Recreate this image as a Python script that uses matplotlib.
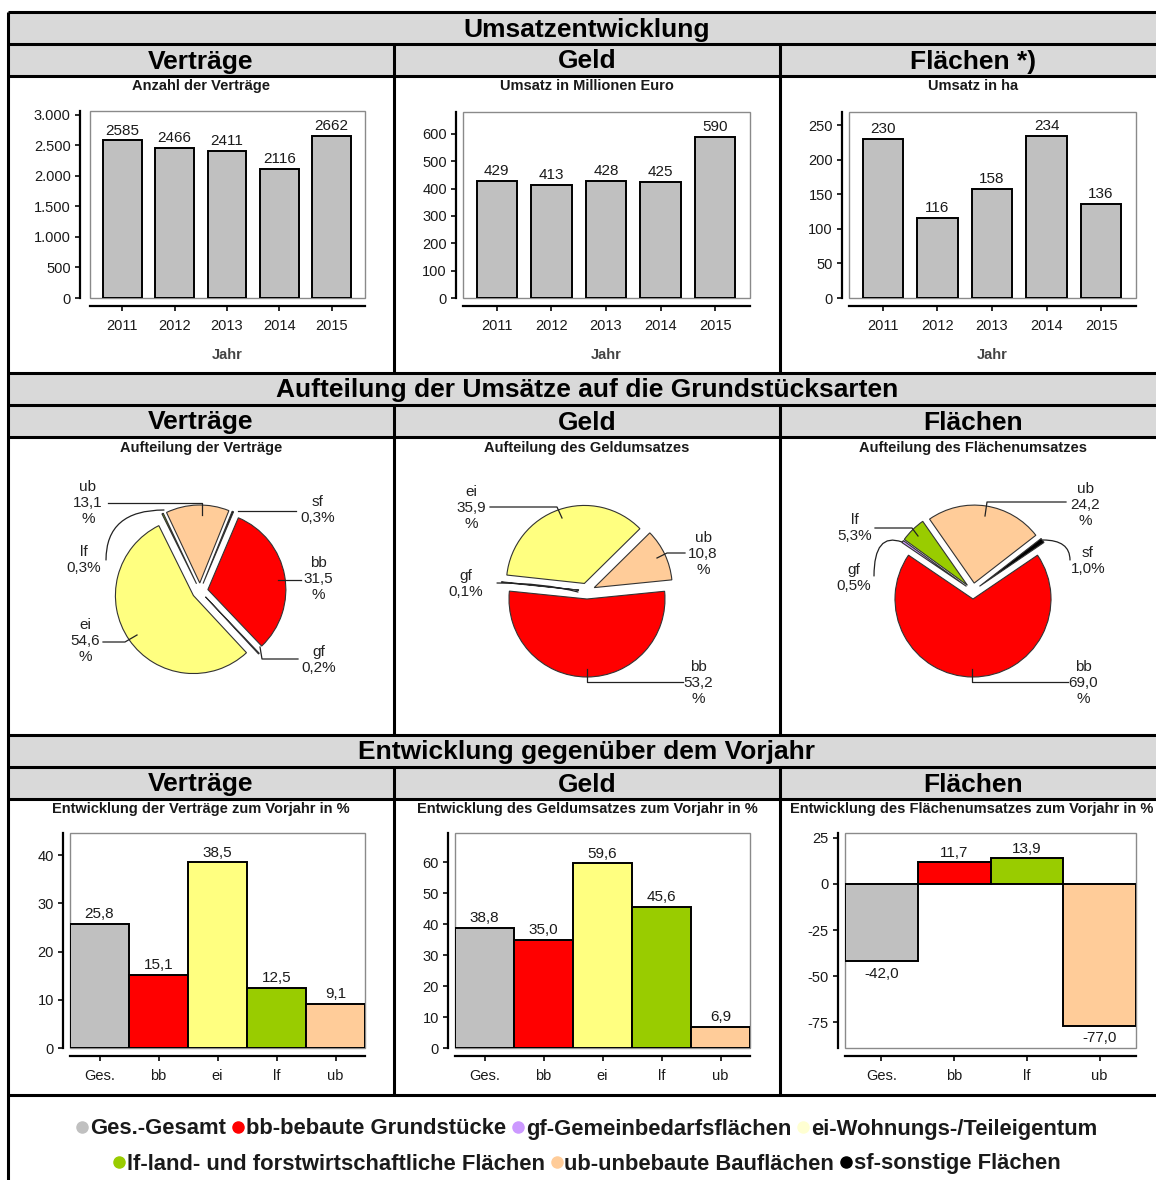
import matplotlib
matplotlib.use('Agg')
import matplotlib.pyplot as plt
from matplotlib.lines import Line2D
from matplotlib.patches import Rectangle, FancyArrowPatch
from matplotlib.ticker import FuncFormatter, MultipleLocator

# ── Style ────────────────────────────────────────────────────────────────────
plt.rcParams.update({
    'font.family':        ['Liberation Sans', 'DejaVu Sans'],
    'font.size':          10.5,
    'text.color':         '#1a1a1a',
    'xtick.color':        '#1a1a1a',
    'ytick.color':        '#1a1a1a',
    'axes.unicode_minus': False,
})

W, H = 1156, 1180           # canvas in pixels
BAND = '#d9d9d9'
INK = '#222222'

COLORS = {
    'Ges.': '#c0c0c0', 'bb': '#ff0000', 'gf': '#cc99ff', 'ei': '#ffff80',
    'lf': '#99cc00', 'ub': '#ffcc99', 'sf': '#000000',
}
# legend bullets: ei is printed much paler there
LEGEND_COLORS = dict(COLORS, ei='#ffffd2')

# ── Data ─────────────────────────────────────────────────────────────────────
YEARS = ['2011', '2012', '2013', '2014', '2015']
ANZAHL_VERTRAEGE = [2585, 2466, 2411, 2116, 2662]
UMSATZ_MIO_EUR = [429, 413, 428, 425, 590]
UMSATZ_HA = [230, 116, 158, 234, 136]

PIE_VERTR_KEYS = ['bb', 'gf', 'ei', 'lf', 'ub', 'sf']
PIE_VERTR_PCT = [31.5, 0.2, 54.6, 0.3, 13.1, 0.3]
PIE_GELD_KEYS = ['bb', 'gf', 'ei', 'ub']
PIE_GELD_PCT = [53.2, 0.1, 35.9, 10.8]
PIE_FLAECHE_KEYS = ['bb', 'gf', 'lf', 'ub', 'sf']
PIE_FLAECHE_PCT = [69.0, 0.5, 5.3, 24.2, 1.0]

DEV_VERTR_CATS = ['Ges.', 'bb', 'ei', 'lf', 'ub']
DEV_VERTR = [25.8, 15.1, 38.5, 12.5, 9.1]
DEV_GELD_CATS = ['Ges.', 'bb', 'ei', 'lf', 'ub']
DEV_GELD = [38.8, 35.0, 59.6, 45.6, 6.9]
DEV_FLAECHE_CATS = ['Ges.', 'bb', 'lf', 'ub']
DEV_FLAECHE = [-42.0, 11.7, 13.9, -77.0]

LEGEND_ROW1 = [('Ges.', 'Ges.-Gesamt'), ('bb', 'bb-bebaute Grundstücke'),
               ('gf', 'gf-Gemeinbedarfsflächen'), ('ei', 'ei-Wohnungs-/Teileigentum')]
LEGEND_ROW2 = [('lf', 'lf-land- und forstwirtschaftliche Flächen'),
               ('ub', 'ub-unbebaute Bauflächen'), ('sf', 'sf-sonstige Flächen')]


def de(v, nd=1):
    return f'{v:.{nd}f}'.replace('.', ',')


def box(x0, y0, x1, y1):
    return [x0 / W, 1 - y1 / H, (x1 - x0) / W, (y1 - y0) / H]


fig = plt.figure(figsize=(W / 100, H / 100), dpi=100)

# background canvas in pixel units (y up)
bg = fig.add_axes([0, 0, 1, 1])


def hline(y, x0=8, x1=W):
    bg.plot([x0, x1], [H - y, H - y], color='black', lw=2.2, solid_capstyle='butt', zorder=5)


def vline(x, y0, y1):
    bg.plot([x, x], [H - y0, H - y1], color='black', lw=2.2, solid_capstyle='butt', zorder=5)


def band(y0, y1):
    bg.add_patch(Rectangle((8, H - y1), W - 8, y1 - y0, facecolor=BAND, edgecolor='none', zorder=1))


def btext(x, y, s, **kw):
    bg.text(x, H - y, s, ha='center', va='center', **kw)


# ── Table frame ──────────────────────────────────────────────────────────────
COLS = [8, 394, 780, 1166]
CENTERS = [201, 587, 973]
sections = [
    (12, 'Umsatzentwicklung', ['Verträge', 'Geld', 'Flächen *)'], 373),
    (373, 'Aufteilung der Umsätze auf die Grundstücksarten', ['Verträge', 'Geld', 'Flächen'], 735),
    (735, 'Entwicklung gegenüber dem Vorjahr', ['Verträge', 'Geld', 'Flächen'], 1095),
]
for top, title, subs, bottom in sections:
    band(top, top + 64)
    hline(top)
    hline(top + 32)
    hline(top + 64)
    btext(587, top + 17.5, title, fontsize=19, fontweight='bold', color='black')
    for cx, s in zip(CENTERS, subs):
        btext(cx, top + 49.5, s, fontsize=19, fontweight='bold', color='black')
    for x in COLS[1:3]:
        vline(x, top + 32, bottom)
hline(1095)
vline(8, 12, H)

# chart titles
for cx, s in zip(CENTERS, ['Anzahl der Verträge', 'Umsatz in Millionen Euro', 'Umsatz in ha']):
    btext(cx, 86, s, fontweight='bold')
for cx, s in zip(CENTERS, ['Aufteilung der Verträge', 'Aufteilung des Geldumsatzes',
                           'Aufteilung des Flächenumsatzes']):
    btext(cx, 448, s, fontweight='bold')
for cx, s in zip([201, 587, 972], ['Entwicklung der Verträge zum Vorjahr in %',
                                   'Entwicklung des Geldumsatzes zum Vorjahr in %',
                                   'Entwicklung des Flächenumsatzes zum Vorjahr in %']):
    btext(cx, 809, s, fontweight='bold')


# ── Bar charts ───────────────────────────────────────────────────────────────
def bar_axes(rect, ylim, xlim, left_out=5):
    ax = fig.add_axes(box(*rect))
    ax.set_xlim(*xlim)
    ax.set_ylim(*ylim)
    ax.patch.set_alpha(0)
    for s in ('top', 'right'):
        ax.spines[s].set_visible(False)
    ax.spines['left'].set_position(('outward', left_out))
    ax.spines['bottom'].set_position(('outward', 5.5))
    for s in ('left', 'bottom'):
        ax.spines[s].set_linewidth(1.6)
    ax.add_patch(Rectangle((0, 0), 1, 1, transform=ax.transAxes, fill=False,
                           edgecolor='#8a8a8a', lw=1.0, zorder=0.5, clip_on=False))
    ax.tick_params(direction='out', length=3.6, width=1.3, labelsize=10.5)
    ax.tick_params(axis='x', pad=6)
    ax.tick_params(axis='y', pad=3)
    return ax


def label_bars(ax, vals, fmt):
    for i, v in enumerate(vals):
        if v >= 0:
            ax.annotate(fmt(v), (i, v), xytext=(0, 2), textcoords='offset points',
                        ha='center', va='bottom', fontsize=11)
        else:
            ax.annotate(fmt(v), (i, v), xytext=(0, -4), textcoords='offset points',
                        ha='center', va='top', fontsize=11)


thousands = FuncFormatter(lambda v, p: f'{v:,.0f}'.replace(',', '.'))

top_specs = [
    ((90, 111, 365, 298), ANZAHL_VERTRAEGE, (0, 3065), 500, 7.2),
    ((463, 112, 750, 298), UMSATZ_MIO_EUR, (0, 680), 100, 5),
    ((849, 112, 1136, 298), UMSATZ_HA, (0, 269), 50, 5),
]
for rect, vals, ylim, step, lo in top_specs:
    ax = bar_axes(rect, ylim, (-0.62, 4.64), left_out=lo)
    x = range(len(YEARS))
    ax.bar(x, vals, width=0.74, color=COLORS['Ges.'], edgecolor='black', linewidth=1.4, zorder=3)
    label_bars(ax, vals, str)
    ax.set_xticks(list(x))
    ax.set_xticklabels(YEARS)
    ax.yaxis.set_major_locator(MultipleLocator(step))
    ax.yaxis.set_major_formatter(thousands)
    ax.set_xlabel('Jahr', fontweight='bold', color='#444444', fontsize=10.5, labelpad=11)

bottom_specs = [
    ((70, 833, 365, 1048), DEV_VERTR_CATS, DEV_VERTR, (0, 44.6), 10),
    ((455, 833, 750, 1048), DEV_GELD_CATS, DEV_GELD, (0, 69.4), 10),
    ((845, 833, 1136, 1048), DEV_FLAECHE_CATS, DEV_FLAECHE, (-89.1, 27.7), 25),
]
for rect, cats, vals, ylim, step in bottom_specs:
    n = len(cats)
    ax = bar_axes(rect, ylim, (-0.5, n - 0.5))
    ax.bar(range(n), vals, width=1.0, color=[COLORS[c] for c in cats],
           edgecolor='black', linewidth=1.4, zorder=3)
    label_bars(ax, vals, de)
    ax.set_xticks(range(n))
    ax.set_xticklabels(cats)
    ax.yaxis.set_major_locator(MultipleLocator(step))
    ax.yaxis.set_major_formatter(FuncFormatter(lambda v, p: f'{v:.0f}'))


# ── Pie charts ───────────────────────────────────────────────────────────────
def draw_pie(cx, cy, keys, pct, start):
    bg.pie(pct, colors=[COLORS[k] for k in keys], startangle=start, counterclock=False,
           center=(cx, H - cy), radius=78, explode=[8] * len(pct),
           wedgeprops=dict(edgecolor='#333333', linewidth=0.8))


def pie_text(x, y, key, v, stacked):
    s = f'{key}\n{de(v)}\n%' if stacked else f'{key}\n{de(v)}%'
    bg.text(x, H - y, s, ha='center', va='center', fontsize=11, color=INK, linespacing=1.2)


def leader(*pts):
    bg.plot([p[0] for p in pts], [H - p[1] for p in pts], color=INK, lw=0.9, zorder=4)


def curve(p0, p1, style):
    bg.add_patch(FancyArrowPatch((p0[0], H - p0[1]), (p1[0], H - p1[1]), arrowstyle='-',
                                 connectionstyle=style, color=INK, lw=0.9,
                                 shrinkA=0, shrinkB=0, zorder=4))


# Verträge
draw_pie(200, 591, PIE_VERTR_KEYS, PIE_VERTR_PCT, 67)
v = dict(zip(PIE_VERTR_KEYS, PIE_VERTR_PCT))
pie_text(88, 503, 'ub', v['ub'], True)
pie_text(318, 510, 'sf', v['sf'], False)
pie_text(318, 579, 'bb', v['bb'], True)
pie_text(319, 660, 'gf', v['gf'], False)
pie_text(85, 641, 'ei', v['ei'], True)
pie_text(84, 560, 'lf', v['lf'], False)
leader((108, 503), (202, 503), (202, 515))
leader((238, 511), (296, 511))
leader((278, 580), (301, 580))
leader((260, 647), (262, 659), (298, 659))
leader((103, 642), (125, 642), (137, 635))
curve((106, 560), (164, 510), 'angle3,angleA=90,angleB=0')

# Geld
draw_pie(587, 591, PIE_GELD_KEYS, PIE_GELD_PCT, 5.7)
v = dict(zip(PIE_GELD_KEYS, PIE_GELD_PCT))
pie_text(471, 508, 'ei', v['ei'], True)
pie_text(466, 584, 'gf', v['gf'], False)
pie_text(703, 554, 'ub', v['ub'], True)
pie_text(698, 683, 'bb', v['bb'], True)
leader((490, 507), (557, 507), (562, 518))
leader((685, 553), (667, 553), (657, 558))
leader((587, 669), (587, 682), (683, 682))
curve((497, 583), (578, 592), 'angle3,angleA=0,angleB=-15')

# Flächen
draw_pie(973, 591, PIE_FLAECHE_KEYS, PIE_FLAECHE_PCT, 34.2)
v = dict(zip(PIE_FLAECHE_KEYS, PIE_FLAECHE_PCT))
pie_text(1085, 505, 'ub', v['ub'], True)
pie_text(855, 528, 'lf', v['lf'], False)
pie_text(854, 578, 'gf', v['gf'], False)
pie_text(1088, 561, 'sf', v['sf'], False)
pie_text(1083, 683, 'bb', v['bb'], True)
leader((985, 516), (987, 502), (1066, 502))
leader((875, 528), (912, 528), (918, 536))
leader((972, 669), (972, 682), (1068, 682))
curve((874, 576), (902, 542), 'angle3,angleA=90,angleB=-20')
curve((1070, 560), (1043, 540), 'angle3,angleA=90,angleB=0')

bg.set_xlim(0, W)
bg.set_ylim(0, H)
bg.set_aspect('auto')
bg.axis('off')

# ── Legend ───────────────────────────────────────────────────────────────────
for row, y in ((LEGEND_ROW1, 1129), (LEGEND_ROW2, 1164)):
    handles = [Line2D([], [], ls='none', marker='o', markersize=8,
                      markerfacecolor=LEGEND_COLORS[k], markeredgecolor=LEGEND_COLORS[k])
               for k, _ in row]
    fig.legend(handles, [t for _, t in row], loc='center', ncol=len(row),
               bbox_to_anchor=(587 / W, 1 - y / H), frameon=False,
               prop=dict(size=15.8, weight='bold'), handlelength=0.5,
               handletextpad=0.1, columnspacing=0.3, borderpad=0, borderaxespad=0)

fig.savefig('out.png', dpi=100)
